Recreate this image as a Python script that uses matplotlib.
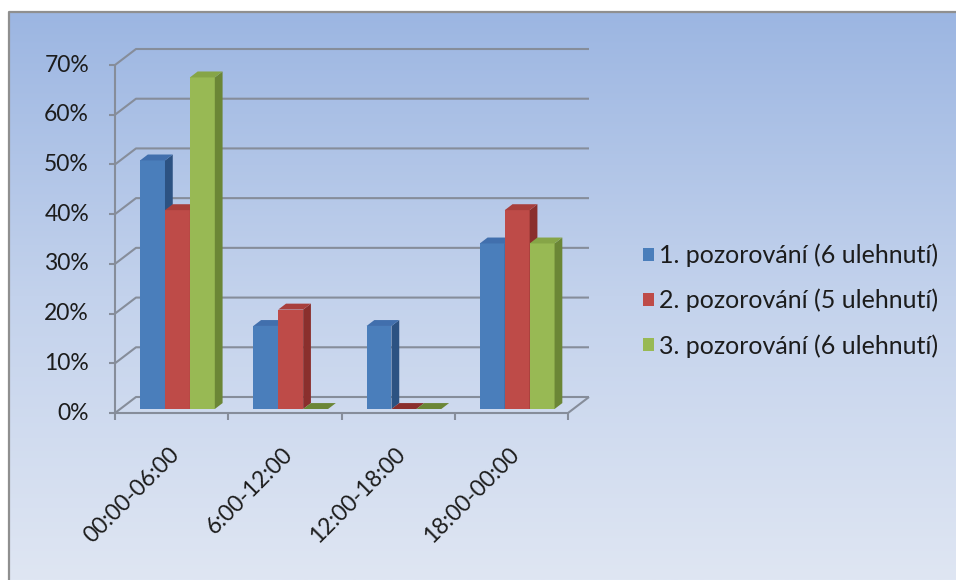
import numpy as np
import matplotlib.pyplot as plt
from matplotlib.patches import Polygon, Patch
from matplotlib.colors import LinearSegmentedColormap

# data: share of falling-asleep events per time window (%)
categories = ['00:00-06:00', '6:00-12:00', '12:00-18:00', '18:00-00:00']
series_names = ['1. pozorování (6 ulehnutí)',
                '2. pozorování (5 ulehnutí)',
                '3. pozorování (6 ulehnutí)']
pozorovani_1 = [50.0, 16.7, 16.7, 33.3]
pozorovani_2 = [40.0, 20.0, 0.0, 40.0]
pozorovani_3 = [66.7, 0.0, 0.0, 33.3]
y_ticks = [0, 10, 20, 30, 40, 50, 60, 70]

series = [pozorovani_1, pozorovani_2, pozorovani_3]
# front, top, side colours for each series
face_cols = ['#4a7ebb', '#be4b48', '#98b954']
top_cols = ['#416fad', '#a83f3c', '#86a547']
side_cols = ['#2c5282', '#8a2f2d', '#6b8636']

plt.rcParams['font.family'] = ['Lato', 'DejaVu Sans']
W, H = 956, 580
fig = plt.figure(figsize=(W / 100, H / 100), dpi=100)
fig.patch.set_facecolor('white')

# gradient background with a border on the left and top
bg = fig.add_axes([0, 0, 1, 1])
bg.set_xlim(0, W)
bg.set_ylim(H, 0)
bg.axis('off')
cmap = LinearSegmentedColormap.from_list('bg', ['#9cb6e2', '#c3d2ec', '#dfe6f3'])
grad = np.linspace(0, 1, 256).reshape(-1, 1)
bg.imshow(grad, cmap=cmap, aspect='auto', extent=[9, W, H, 12], zorder=0)
bg.plot([9, 9, W], [H, 12, 12], color='#8f8f8f', lw=1.6, zorder=1)

# plotting area: front plane of the 3D box
x0, x1, y0, y1 = 115, 568, 413, 65
ax = fig.add_axes([x0 / W, (H - y0) / H, (x1 - x0) / W, (y0 - y1) / H])
ax.set_xlim(-0.5, 3.5)
ax.set_ylim(0, 70)
ax.axis('off')

px_x = (x1 - x0) / 4.0       # pixels per category
px_y = (y0 - y1) / 70.0      # pixels per percent
DX = 21 / px_x               # depth offset of the back wall
DY = 16 / px_y

grid_col = '#868d9a'
lw = 1.5
kw = dict(color=grid_col, lw=lw, clip_on=False, zorder=1, solid_capstyle='butt')
txt_col = '#1c1c1c'

# back wall and side wall grid
for t in y_ticks:
    ax.plot([-0.5, -0.5 + DX, 3.5 + DX], [t, t + DY, t + DY], **kw)
    ax.plot([-0.5 - 6 / px_x, -0.5], [t, t], **kw)
    ax.text(-0.5 - 26 / px_x, t, f'{t}%', ha='right', va='center',
            fontsize=16.5, color=txt_col)
# floor front edge, right edge, front axis
ax.plot([-0.5, 3.5, 3.5 + DX], [0, 0, DY], **kw)
ax.plot([-0.5, -0.5], [0, 70], **kw)
for i in range(5):
    ax.plot([i - 0.5, i - 0.5], [0, -7 / px_y], **kw)

# bars
w = 0.22
f0, f1 = 0.25, 0.62
for k, vals in enumerate(series):
    for i, v in enumerate(vals):
        xl = i + (k - 1.5) * w + 0.005
        xr = xl + w
        if v > 0:
            ax.bar(xl + f0 * DX, v, width=w, bottom=f0 * DY, align='edge',
                   color=face_cols[k], lw=0, clip_on=False, zorder=3 + k)
            side = [(xr + f0 * DX, f0 * DY), (xr + f1 * DX, f1 * DY),
                    (xr + f1 * DX, v + f1 * DY), (xr + f0 * DX, v + f0 * DY)]
            ax.add_patch(Polygon(side, closed=True, fc=side_cols[k], lw=0,
                                 clip_on=False, zorder=3 + k))
        top = [(xl + f0 * DX, v + f0 * DY), (xr + f0 * DX, v + f0 * DY),
               (xr + f1 * DX, v + f1 * DY), (xl + f1 * DX, v + f1 * DY)]
        ax.add_patch(Polygon(top, closed=True, fc=top_cols[k] if v > 0 else side_cols[k],
                             lw=0, clip_on=False, zorder=3 + k))

# category labels
for i, c in enumerate(categories):
    ax.text(i - 0.03, -31 / px_y, c, rotation=45, rotation_mode='anchor',
            ha='right', va='top', fontsize=16.5, color=txt_col)

handles = [Patch(facecolor=col, edgecolor='none') for col in face_cols]
fig.legend(handles, series_names, loc='center left',
           bbox_to_anchor=(643 / W, (H - 300.5) / H), frameon=False,
           fontsize=18, handlelength=0.42, handleheight=0.42,
           handletextpad=0.22, labelspacing=0.87, borderpad=0, borderaxespad=0,
           labelcolor=txt_col)

fig.savefig('out.png', dpi=100)
